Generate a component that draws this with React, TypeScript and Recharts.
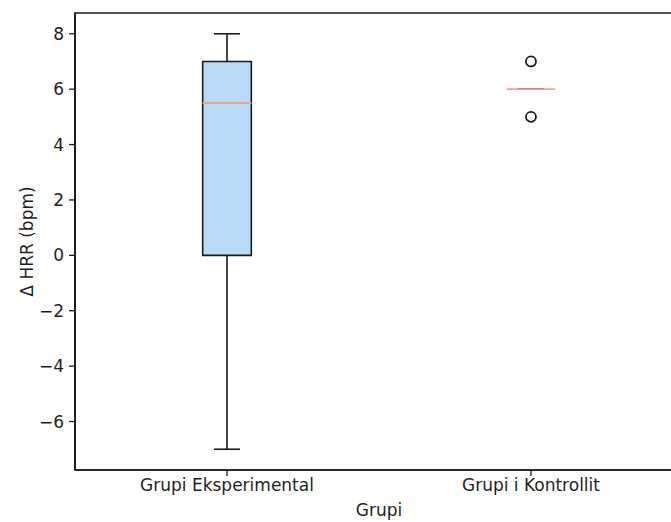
import React from 'react';
import {
  ComposedChart,
  XAxis,
  YAxis,
  Scatter,
  ReferenceArea,
  ReferenceLine,
} from 'recharts';

// box plot summary
const categories = ['Grupi Eksperimental', 'Grupi i Kontrollit'];
const positions = [1, 2];
const whiskerLow = [-7, 6];
const q1 = [0, 6];
const medians = [5.5, 6];
const q3 = [7, 6];
const whiskerHigh = [8, 6];
const outlierGroup = [2, 2];
const outlierValues = [7, 5];
const yTicks = [-6, -4, -2, 0, 2, 4, 6, 8];

const outliers = outlierGroup.map((g, i) => ({ x: g, y: outlierValues[i] }));

const FONT = '"DejaVu Sans", sans-serif';
const TEXT = '#1e1e1e';
const EDGE = '#1a1a1a';
const BOX_HALF = 0.08;
const CAP_HALF = 0.043;

const OutlierDot = (props: any) => (
  <circle cx={props.cx} cy={props.cy} r={5} fill="none" stroke={EDGE} strokeWidth={1.8} />
);

export default function App() {
  return (
    <div style={{ position: 'absolute', left: 0, top: 0, width: 671, height: 522, overflow: 'hidden', background: '#fff' }}>
      <ComposedChart
        width={700}
        height={522}
        margin={{ top: 13, right: 17, bottom: 0, left: 15 }}
        style={{ fontFamily: FONT }}
      >
        <XAxis
          type="number"
          dataKey="x"
          domain={[0.5, 2.5]}
          ticks={positions}
          allowDataOverflow
          tickFormatter={(v: number) => categories[v - 1]}
          height={52}
          tickSize={6}
          tickMargin={3}
          axisLine={{ stroke: EDGE, strokeWidth: 1.7 }}
          tickLine={{ stroke: EDGE, strokeWidth: 1.3 }}
          tick={{ fill: TEXT, fontSize: 17 }}
          label={{ value: 'Grupi', position: 'insideBottom', offset: 6, fill: TEXT, fontSize: 17 }}
        />
        <YAxis
          type="number"
          dataKey="y"
          domain={[-7.75, 8.75]}
          ticks={yTicks}
          allowDataOverflow
          width={60}
          tickSize={6}
          tickMargin={5}
          tickFormatter={(v: number) => String(v).replace('-', '\u2212')}
          axisLine={{ stroke: EDGE, strokeWidth: 1.7 }}
          tickLine={{ stroke: EDGE, strokeWidth: 1.3 }}
          tick={{ fill: TEXT, fontSize: 17 }}
          label={{
            value: '\u0394 HRR (bpm)',
            angle: -90,
            position: 'insideLeft',
            offset: 12,
            fill: TEXT,
            fontSize: 17,
            style: { textAnchor: 'middle' },
          }}
        />
        {/* plot frame */}
        <ReferenceArea
          x1={0.5}
          x2={2.5}
          y1={-7.75}
          y2={8.75}
          fill="none"
          stroke={EDGE}
          strokeWidth={1.7}
          ifOverflow="visible"
        />
        {positions.map((p, i) => (
          <ReferenceArea
            key={'box' + i}
            x1={p - BOX_HALF}
            x2={p + BOX_HALF}
            y1={q1[i]}
            y2={q3[i]}
            fill="#b8dcf8"
            fillOpacity={1}
            stroke={EDGE}
            strokeWidth={1.6}
            ifOverflow="visible"
          />
        ))}
        {positions.map((p, i) => (
          <ReferenceLine
            key={'wl' + i}
            segment={[{ x: p, y: whiskerLow[i] }, { x: p, y: q1[i] }]}
            stroke={EDGE}
            strokeWidth={1.6}
            ifOverflow="visible"
          />
        ))}
        {positions.map((p, i) => (
          <ReferenceLine
            key={'wh' + i}
            segment={[{ x: p, y: q3[i] }, { x: p, y: whiskerHigh[i] }]}
            stroke={EDGE}
            strokeWidth={1.6}
            ifOverflow="visible"
          />
        ))}
        {positions.map((p, i) => (
          <ReferenceLine
            key={'cl' + i}
            segment={[{ x: p - CAP_HALF, y: whiskerLow[i] }, { x: p + CAP_HALF, y: whiskerLow[i] }]}
            stroke={EDGE}
            strokeWidth={1.6}
            ifOverflow="visible"
          />
        ))}
        {positions.map((p, i) => (
          <ReferenceLine
            key={'ch' + i}
            segment={[{ x: p - CAP_HALF, y: whiskerHigh[i] }, { x: p + CAP_HALF, y: whiskerHigh[i] }]}
            stroke={EDGE}
            strokeWidth={1.6}
            ifOverflow="visible"
          />
        ))}
        {positions.map((p, i) => (
          <ReferenceLine
            key={'md' + i}
            segment={[{ x: p - BOX_HALF, y: medians[i] }, { x: p + BOX_HALF, y: medians[i] }]}
            stroke="#eea58e"
            strokeWidth={1.8}
            ifOverflow="visible"
          />
        ))}
        <Scatter data={outliers} dataKey="y" shape={OutlierDot} isAnimationActive={false} />
      </ComposedChart>
    </div>
  );
}
